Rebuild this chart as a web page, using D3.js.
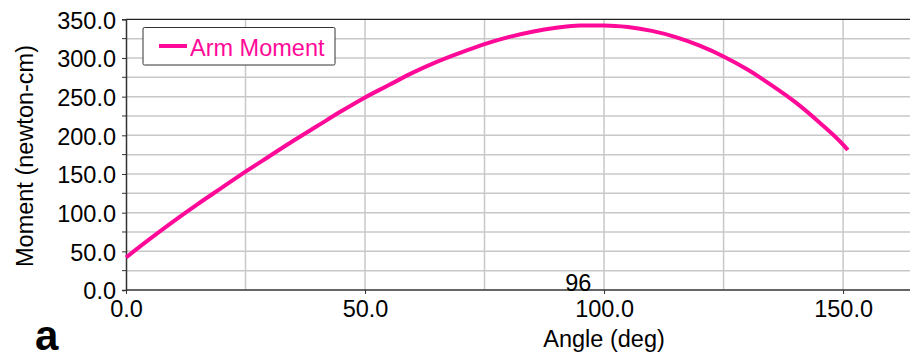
<!DOCTYPE html>
<html>
<head>
<meta charset="utf-8">
<script src="https://cdn.jsdelivr.net/npm/d3@7"></script>
<style>
  body { margin: 0; background: #fff; }
  text { font-family: "Liberation Sans", Arial, sans-serif; }
</style>
</head>
<body>
<div id="chart"></div>
<script>
// values (angle in deg, moment in newton-cm)
var angles = [0, 5, 10, 15, 20, 25, 30, 35, 40, 45, 50, 55, 60, 65, 70, 75,
  80, 85, 90, 95, 100, 105, 110, 115, 120, 125, 130, 135, 140, 145, 150, 151];
var moments = [42, 66, 89, 111, 132, 153, 173, 193, 212, 231, 249, 265, 281, 295, 307, 318,
  327, 334, 339, 342, 342, 340, 335, 327, 316, 302, 285, 265, 243, 217, 188, 181];
var seriesName = "Arm Moment";
var xTicks = [0, 50, 100, 150];
var yTicks = [0, 50, 100, 150, 200, 250, 300, 350];
var gridX = [25, 50, 75, 100, 125, 150];
var gridY = [25, 50, 75, 100, 125, 150, 175, 200, 225, 250, 275, 300, 325];
var minorY = [25, 75, 125, 175, 225, 275, 325];
var cursorAngle = 94.6, cursorLabel = "96";

var W = 910, H = 361;
var pink = "#ff0a98";
var fs = 23.5;

var svg = d3.select("#chart").append("svg")
  .attr("width", W)
  .attr("height", H);

//scales
var x = d3.scaleLinear().domain([0, 164]).range([126, 910]);
var y = d3.scaleLinear().domain([0, 350]).range([290, 19.3]);

// grid
svg.append("g").selectAll("line").data(gridX).enter().append("line")
  .attr("x1", function(d) { return x(d); })
  .attr("x2", function(d) { return x(d); })
  .attr("y1", y(350)).attr("y2", y(0))
  .attr("stroke", "#c8c8c8").attr("stroke-width", 1.5);
svg.append("g").selectAll("line").data(gridY).enter().append("line")
  .attr("x1", x(0)).attr("x2", W)
  .attr("y1", function(d) { return y(d); })
  .attr("y2", function(d) { return y(d); })
  .attr("stroke", "#c8c8c8").attr("stroke-width", 1.5);

// top border
svg.append("line")
  .attr("x1", x(0)).attr("x2", W)
  .attr("y1", y(350)).attr("y2", y(350))
  .attr("stroke", "#222").attr("stroke-width", 1.2);

// y axis
var yAxis = svg.append("g")
  .attr("transform", "translate(" + x(0) + ",0)")
  .call(d3.axisLeft(y).tickValues(yTicks).tickSize(4).tickPadding(6)
    .tickFormat(d3.format(".1f")));
yAxis.select(".domain").attr("stroke", "#333").attr("stroke-width", 1.5);
yAxis.selectAll("line").attr("stroke", "#333");
yAxis.selectAll("text")
  .attr("font-size", fs)
  .attr("fill", "#000")
  .attr("font-family", "Liberation Sans, Arial, sans-serif")
  .attr("dy", "0.38em");
yAxis.selectAll(".minor").data(minorY).enter().append("line")
  .attr("class", "minor")
  .attr("x1", -4).attr("x2", 0)
  .attr("y1", function(d) { return y(d); })
  .attr("y2", function(d) { return y(d); })
  .attr("stroke", "#333");

// x axis
var xAxis = svg.append("g")
  .attr("transform", "translate(0," + y(0) + ")")
  .call(d3.axisBottom(x).tickValues(xTicks).tickSize(4).tickPadding(6)
    .tickFormat(d3.format(".1f")));
xAxis.select(".domain").attr("d", "M" + x(0) + ",0H" + W)
  .attr("stroke", "#333").attr("stroke-width", 1.5);
xAxis.selectAll("line").attr("stroke", "#333");
xAxis.selectAll("text")
  .attr("font-size", fs)
  .attr("fill", "#000")
  .attr("font-family", "Liberation Sans, Arial, sans-serif");

// axis titles
svg.append("text")
  .attr("x", x(100))
  .attr("y", 347)
  .attr("text-anchor", "middle")
  .attr("font-size", fs)
  .text("Angle (deg)");
svg.append("text")
  .attr("transform", "translate(33,156) rotate(-90)")
  .attr("text-anchor", "middle")
  .attr("font-size", fs)
  .text("Moment (newton-cm)");

// cursor readout
svg.append("text")
  .attr("x", x(cursorAngle))
  .attr("y", y(0) + 1)
  .attr("text-anchor", "middle")
  .attr("font-size", fs)
  .text(cursorLabel);

// the curve
var points = angles.map(function(a, i) { return { a: a, m: moments[i] }; });
var valueline = d3.line()
  .x(function(d) { return x(d.a); })
  .y(function(d) { return y(d.m); })
  .curve(d3.curveMonotoneX);
svg.append("path")
  .datum(points)
  .attr("fill", "none")
  .attr("stroke", pink)
  .attr("stroke-width", 4)
  .attr("stroke-linejoin", "round")
  .attr("d", valueline);

// legend
var lg = svg.append("g");
lg.append("rect")
  .attr("x", 143).attr("y", 27.5)
  .attr("width", 192).attr("height", 37.5)
  .attr("rx", 1.5)
  .attr("fill", "#fff")
  .attr("stroke", "#333").attr("stroke-width", 1);
lg.append("line")
  .attr("x1", 159).attr("x2", 187)
  .attr("y1", 46).attr("y2", 46)
  .attr("stroke", pink).attr("stroke-width", 4);
lg.append("text")
  .attr("x", 190).attr("y", 56)
  .attr("font-size", fs)
  .attr("fill", pink)
  .text(seriesName);

// panel letter
svg.append("text")
  .attr("x", 35).attr("y", 350)
  .attr("font-family", "DejaVu Sans, sans-serif")
  .attr("font-weight", "bold")
  .attr("font-size", 42)
  .text("a");
</script>
</body>
</html>
